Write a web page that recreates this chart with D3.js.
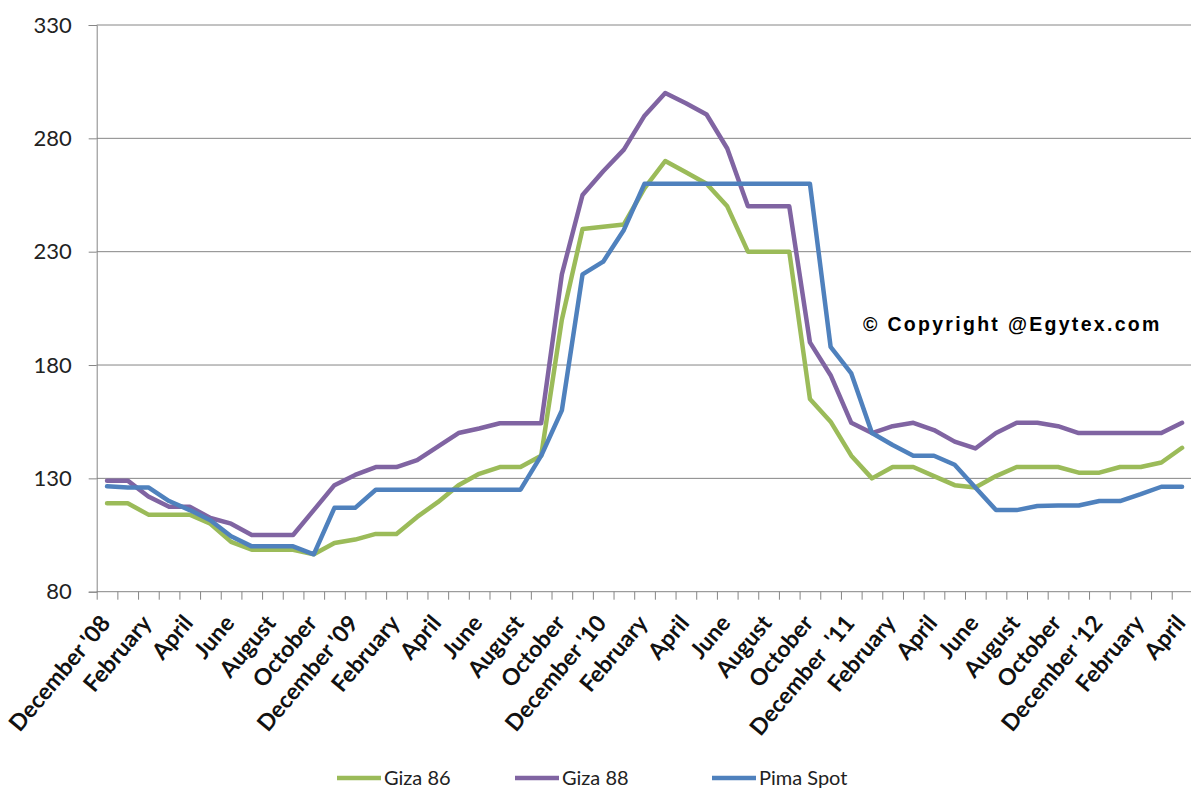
<!DOCTYPE html>
<html>
<head>
<meta charset="utf-8">
<script src="https://cdn.jsdelivr.net/npm/d3@7"></script>
<style>
  html, body { margin: 0; padding: 0; background: #fff; }
  svg { display: block; }
</style>
</head>
<body>
<svg id="chart" width="1191" height="792"></svg>
<script>
// Monthly cotton prices, December 2008 – April 2013
const months = [
  "December '08","January","February","March","April","May","June","July","August","September","October","November",
  "December '09","January","February","March","April","May","June","July","August","September","October","November",
  "December '10","January","February","March","April","May","June","July","August","September","October","November",
  "December\u00A0 '11","January","February","March","April","May","June","July","August","September","October","November",
  "December '12","January","February","March","April"
];

const giza86 = [
  119, 119, 114, 114, 114, 110, 102, 98.5, 98.5, 98.5, 96.5, 101.5,
  103, 105.5, 105.5, 113, 119.5, 127, 132, 135, 135, 140, 200, 240,
  241, 242, 258, 270, 265, 260, 250, 230, 230, 230, 165, 155,
  140, 130, 135, 135, 131, 127, 126, 131, 135, 135, 135, 132.5,
  132.5, 135, 135, 137, 143.5
];

const giza88 = [
  129, 129, 122, 117.5, 117.5, 112.5, 110, 105, 105, 105, 116, 127,
  131.5, 135, 135, 138, 144, 150, 152, 154.3, 154.3, 154.3, 220, 255,
  265.5, 275, 290, 300, 295.5, 290.5, 275.5, 250, 250, 250, 190, 175.5,
  154.5, 150, 153, 154.5, 151.3, 146.2, 143.2, 150, 154.5, 154.5, 153, 150,
  150, 150, 150, 150, 154.5
];

const pimaSpot = [
  126.5, 126, 126, 120, 116, 111.5, 104.5, 100, 100, 100, 96.5, 117,
  117, 125, 125, 125, 125, 125, 125, 125, 125, 140, 160, 220,
  225.6, 239.6, 260, 260, 260, 260, 260, 260, 260, 260, 260, 188,
  176.3, 150, 144.7, 140, 140, 136, 126, 116, 116, 117.8, 118, 118,
  120, 120, 123, 126.3, 126.3
];

const yTicks = [80, 130, 180, 230, 280, 330];
const seriesNames = ["Giza 86", "Giza 88", "Pima Spot"];
const seriesColors = ["#9BBB59", "#8064A2", "#4F81BD"];

const svg = d3.select("#chart");
const plotLeft = 96.7, plotRight = 1192.4, plotTop = 25, plotBottom = 591.7;

const idx = d3.range(months.length);
const x = d3.scaleBand().domain(idx).range([plotLeft, plotRight]).paddingInner(0).paddingOuter(0);
const xc = i => x(i) + x.bandwidth() / 2;
const xb = d3.scaleLinear().domain([0, months.length]).range([plotLeft, plotRight]);
const y = d3.scaleLinear().domain([80, 330]).range([plotBottom, plotTop]);

const gridColor = "#868686";

// horizontal gridlines
svg.append("g")
  .selectAll("line")
  .data(yTicks.filter(v => v !== 80))
  .join("line")
  .attr("x1", plotLeft).attr("x2", plotRight)
  .attr("y1", d => y(d)).attr("y2", d => y(d))
  .attr("stroke", gridColor).attr("stroke-width", 1);

// value axis
const yAxis = svg.append("g")
  .attr("transform", `translate(${plotLeft},0)`)
  .call(d3.axisLeft(y).tickValues(yTicks).tickSize(8).tickPadding(17).tickFormat(d3.format("d")));
yAxis.select(".domain").attr("stroke", gridColor);
yAxis.selectAll(".tick line").attr("stroke", gridColor);
yAxis.selectAll(".tick text")
  .attr("font-family", "Lato, 'Open Sans', sans-serif")
  .attr("font-size", 22)
  .attr("fill", "#222");

// category axis with tick marks between months
const xAxis = svg.append("g")
  .attr("transform", `translate(0,${plotBottom})`)
  .call(d3.axisBottom(xb).tickValues(d3.range(months.length + 1)).tickSize(8).tickFormat(""));
xAxis.select(".domain").attr("stroke", gridColor).attr("d", `M${plotLeft},0H${plotRight}`);
xAxis.selectAll(".tick line").attr("stroke", gridColor);

// rotated month labels, every second month
svg.append("g")
  .selectAll("text")
  .data(idx.filter(i => i % 2 === 0))
  .join("text")
  .attr("transform", i => `translate(${xc(i) + 4.5},${plotBottom + 32}) rotate(-50)`)
  .attr("text-anchor", "end")
  .attr("font-family", "Lato, 'Open Sans', sans-serif")
  .attr("font-weight", "bold")
  .attr("font-size", 23)
  .attr("fill", "#111")
  .text(i => months[i]);

// price lines
const line = d3.line().x((d, i) => xc(i)).y(d => y(d));
[giza86, giza88, pimaSpot].forEach((s, k) => {
  svg.append("path")
    .datum(s)
    .attr("d", line)
    .attr("fill", "none")
    .attr("stroke", seriesColors[k])
    .attr("stroke-width", 4.5)
    .attr("stroke-linejoin", "round")
    .attr("stroke-linecap", "round");
});

// copyright note
svg.append("text")
  .attr("x", 863).attr("y", 331)
  .attr("font-family", "'Liberation Sans', Arial, sans-serif")
  .attr("font-weight", "bold")
  .attr("font-size", 19.5)
  .attr("letter-spacing", 2.3)
  .attr("fill", "#000")
  .text("\u00A9 Copyright @Egytex.com");

// legend
const legendX = [337, 515, 712];
const legend = svg.append("g");
seriesNames.forEach((name, k) => {
  const g = legend.append("g").attr("transform", `translate(${legendX[k]},778)`);
  g.append("line").attr("x1", 0).attr("x2", 44).attr("y1", 0).attr("y2", 0)
    .attr("stroke", seriesColors[k]).attr("stroke-width", 4.5);
  g.append("text").attr("x", 47).attr("y", 7)
    .attr("font-family", "Lato, 'Open Sans', sans-serif")
    .attr("font-size", 20)
    .attr("fill", "#222")
    .text(name);
});
</script>
</body>
</html>
